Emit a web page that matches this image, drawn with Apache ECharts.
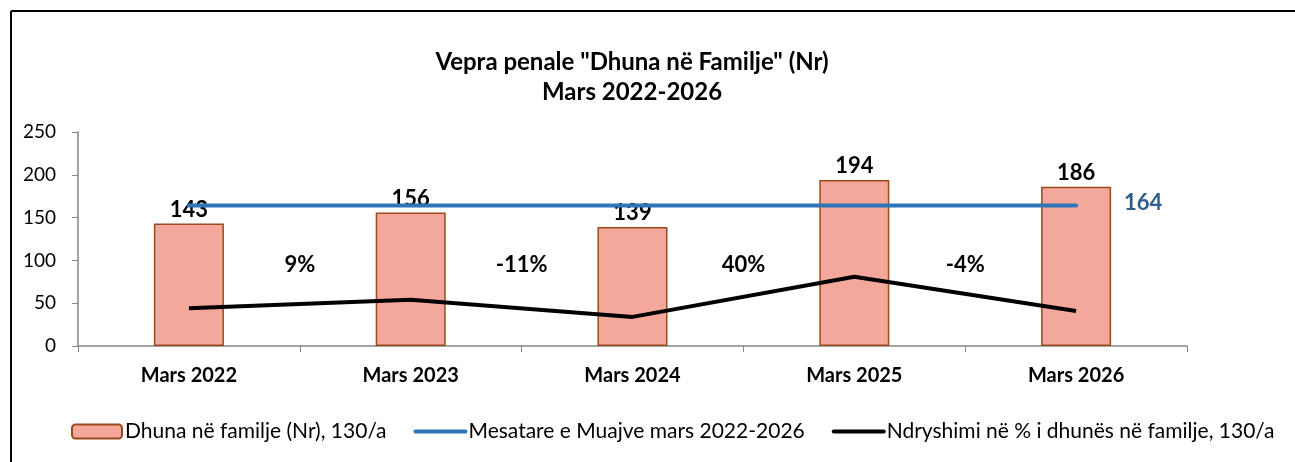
<!DOCTYPE html>
<html>
<head>
<meta charset="utf-8">
<script src="https://cdn.jsdelivr.net/npm/echarts@6/dist/echarts.min.js"></script>
<style>
  html, body { margin: 0; padding: 0; background: #fff; }
  #chart { width: 1295px; height: 462px; }
</style>
</head>
<body>
<div id="chart"></div>
<script>
// categories and values
var categories = ['Mars 2022', 'Mars 2023', 'Mars 2024', 'Mars 2025', 'Mars 2026'];
var cases = [143, 156, 139, 194, 186];
var average = [164, 164, 164, 164, 164];
var changeLine = [44, 54, 34, 81, 41];
var changeLabels = ['9%', '-11%', '40%', '-4%'];
var yTicks = [0, 50, 100, 150, 200, 250];

var font = 'Lato';

// percent labels sit between two months, above the black line
var changePoints = changeLabels.map(function (txt, i) {
    return [i + 1, 95, txt];
});

var myChart = echarts.init(document.getElementById('chart'));

var option = {
    backgroundColor: '#fff',
    animation: false,
    textStyle: { fontFamily: font },
    legend: {
        top: 416,
        left: 66,
        itemGap: 27,
        itemWidth: 50,
        itemHeight: 14,
        textStyle: { fontSize: 21, color: '#000', fontFamily: font, padding: [0, 0, 0, -2] },
        data: [
            { name: 'Dhuna në familje (Nr), 130/a' },
            { name: 'Mesatare e Muajve mars 2022-2026', itemStyle: { opacity: 0 }, lineStyle: { width: 4, cap: 'round' } },
            { name: 'Ndryshimi në % i dhunës në familje, 130/a', itemStyle: { opacity: 0 }, lineStyle: { width: 4, cap: 'round' } }
        ]
    },
    graphic: [
        { type: 'line', shape: { x1: 11, y1: 11, x2: 1295, y2: 11 }, style: { stroke: '#000', lineWidth: 2 } },
        { type: 'line', shape: { x1: 11, y1: 11, x2: 11, y2: 462 }, style: { stroke: '#000', lineWidth: 2 } },
        // title, centred a bit left of the page like in the source
        {
            type: 'text',
            x: 632,
            y: 47,
            style: {
                text: 'Vepra penale "Dhuna në Familje" (Nr)\nMars 2022-2026',
                align: 'center',
                font: 'bold 24px Lato',
                lineHeight: 30,
                fill: '#000'
            }
        }
    ],
    grid: { left: 78, right: 108, top: 132, bottom: 116 },
    xAxis: [
        {
            type: 'category',
            data: categories,
            axisLine: { lineStyle: { color: '#868686', width: 1.5 } },
            axisTick: { show: true, length: 6, lineStyle: { color: '#868686' } },
            axisLabel: { fontSize: 20, fontWeight: 'bold', color: '#000', margin: 20, fontFamily: font }
        },
        { type: 'value', min: 0, max: 5, show: false }
    ],
    yAxis: {
        type: 'value',
        min: yTicks[0],
        max: yTicks[yTicks.length - 1],
        interval: 50,
        splitLine: { show: false },
        axisLine: { show: true, lineStyle: { color: '#868686', width: 1.5 } },
        axisTick: { show: true, length: 6, lineStyle: { color: '#868686' } },
        axisLabel: { fontSize: 19, color: '#000', margin: 22, fontFamily: font }
    },
    series: [
        {
            name: 'Dhuna në familje (Nr), 130/a',
            type: 'bar',
            data: cases,
            barWidth: 70,
            itemStyle: { color: '#F4A79B', borderColor: '#9C4A1C', borderWidth: 1.5 },
            label: { show: true, position: 'top', distance: 3, fontSize: 22, fontWeight: 'bold', color: '#000', fontFamily: font },
            z: 2
        },
        {
            name: 'Mesatare e Muajve mars 2022-2026',
            type: 'line',
            data: average,
            symbol: 'none',
            lineStyle: { color: '#2E75B6', width: 4, cap: 'round' },
            itemStyle: { color: '#2E75B6' },
            endLabel: { show: true, fontSize: 22, fontWeight: 'bold', color: '#2F5C8F', distance: 48, offset: [0, -3], fontFamily: font },
            z: 3
        },
        {
            name: 'Ndryshimi në % i dhunës në familje, 130/a',
            type: 'line',
            data: changeLine,
            symbol: 'none',
            lineStyle: { color: '#000', width: 4 },
            itemStyle: { color: '#000' },
            z: 3
        },
        {
            name: 'pct',
            type: 'scatter',
            xAxisIndex: 1,
            data: changePoints,
            symbolSize: 1,
            silent: true,
            itemStyle: { opacity: 1, color: 'rgba(0,0,0,0)' },
            label: {
                show: true,
                position: 'inside',
                formatter: function (p) { return p.data[2]; },
                fontSize: 22,
                fontWeight: 'bold',
                color: '#000',
                opacity: 1,
                fontFamily: font
            },
            z: 4
        }
    ]
};

myChart.setOption(option);
</script>
</body>
</html>
